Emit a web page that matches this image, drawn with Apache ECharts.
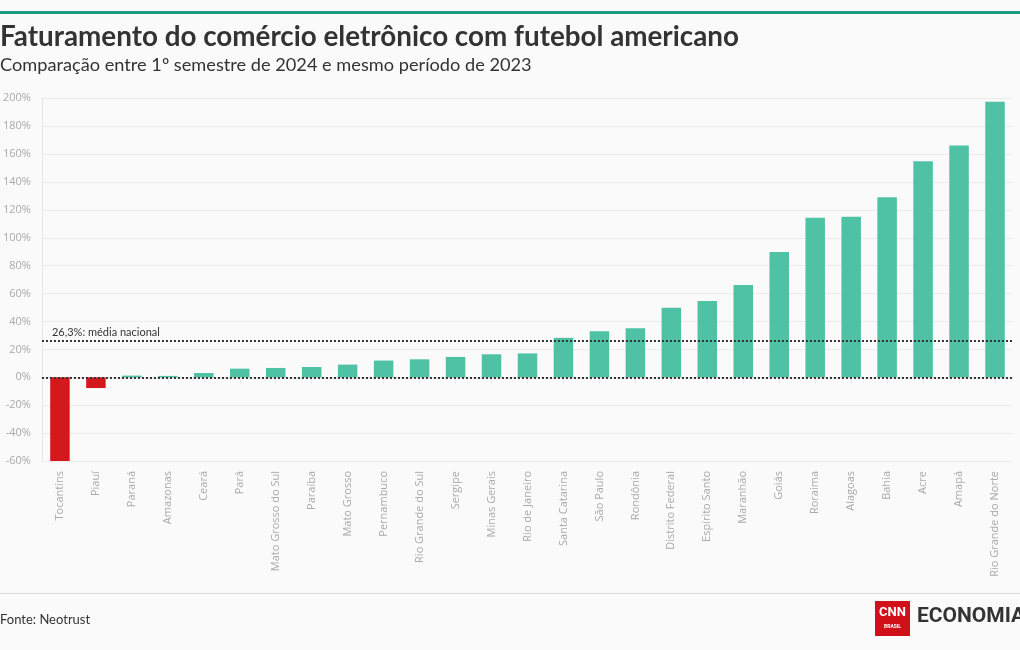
<!DOCTYPE html>
<html>
<head>
<meta charset="utf-8">
<script src="https://cdn.jsdelivr.net/npm/echarts@6/dist/echarts.min.js"></script>
<style>
html,body{margin:0;padding:0;background:#fafafa;}
#chart{width:1020px;height:650px;}
</style>
</head>
<body>
<div id="chart"></div>
<script>
var categories = ["Tocantins","Piauí","Paraná","Amazonas","Ceará","Pará","Mato Grosso do Sul","Paraíba","Mato Grosso","Pernambuco","Rio Grande do Sul","Sergipe","Minas Gerais","Rio de Janeiro","Santa Catarina","São Paulo","Rondônia","Distrito Federal","Espírito Santo","Maranhão","Goiás","Roraima","Alagoas","Bahia","Acre","Amapá","Rio Grande do Norte"];
var values = [-60, -7.7, 1.2, 1.0, 3.1, 6.2, 6.7, 7.4, 9.1, 12.0, 12.9, 14.6, 16.5, 17.1, 28.3, 33.0, 35.1, 49.9, 54.7, 66.1, 89.8, 114.3, 115.0, 129.1, 154.9, 166.1, 197.6];
var nationalAverage = 26.3;
var yTicks = {min: -60, max: 200, interval: 20};
var titleText = "Faturamento do comércio eletrônico com futebol americano";
var subtitleText = "Comparação entre 1º semestre de 2024 e mesmo período de 2023";
var sourceText = "Fonte: Neotrust";

var chart = echarts.init(document.getElementById('chart'));
var option = {
  backgroundColor: '#fafafa',
  animation: false,
  title: [
    {text: titleText, left: 0, top: 23, padding: 0, textStyle: {fontFamily: 'Lato', fontWeight: 'bold', fontSize: 27.8, color: '#333'}},
    {text: subtitleText, left: 0, top: 56, padding: 0, textStyle: {fontFamily: 'Lato', fontWeight: 'normal', fontSize: 18.2, color: '#333'}},
    {text: sourceText, left: 0, top: 613, padding: 0, textStyle: {fontFamily: 'Lato', fontWeight: 'normal', fontSize: 13, color: '#333'}}
  ],
  grid: {left: 39, right: 7, top: 98.3, bottom: 189, containLabel: false},
  xAxis: {
    type: 'category',
    data: categories,
    axisLine: {show: true, lineStyle: {color: '#e6e6e6'}},
    axisTick: {show: true, alignWithLabel: true, length: 6, lineStyle: {color: '#e6e6e6'}},
    axisLabel: {rotate: 90, interval: 0, margin: 10, fontFamily: 'Open Sans', fontSize: 11, color: '#aaa'}
  },
  yAxis: {
    type: 'value',
    min: yTicks.min, max: yTicks.max, interval: yTicks.interval,
    axisLine: {show: true, lineStyle: {color: '#e6e6e6'}},
    axisTick: {show: false},
    splitLine: {lineStyle: {color: '#ececec'}},
    axisLabel: {formatter: '{value}%', margin: 11, fontFamily: 'Open Sans', fontSize: 11, color: '#aaa'}
  },
  series: [{
    type: 'bar',
    data: values.map(function (v) { return {value: v, itemStyle: {color: v < 0 ? '#d4191c' : '#4fc1a5'}}; }),
    barWidth: 19.5,
    markLine: {
      silent: true,
      symbol: 'none',
      lineStyle: {type: [2, 2], color: '#333', width: 2},
      data: [
        {yAxis: nationalAverage, label: {show: true, position: 'insideStartTop', formatter: '26,3%: média nacional', fontFamily: 'Lato', fontSize: 11, color: '#333', distance: [10, 3]}},
        {yAxis: 0, label: {show: false}}
      ]
    }
  }],
  graphic: [
    {type: 'rect', shape: {x: 0, y: 11, width: 1020, height: 3}, style: {fill: '#1d9c80'}},
    {type: 'rect', shape: {x: 0, y: 593, width: 1020, height: 1}, style: {fill: '#dddddd'}},
    {type: 'rect', shape: {x: 875, y: 601, width: 35, height: 35}, style: {fill: '#d2101a'}},
    {type: 'text', x: 892.5, y: 606, style: {text: 'CNN', fill: '#fff', font: 'bold 13px Roboto', textAlign: 'center'}},
    {type: 'text', x: 892.5, y: 624, style: {text: 'BRASIL', fill: '#fff', font: 'bold 5px Roboto', textAlign: 'center'}},
    {type: 'text', x: 917, y: 606, style: {text: 'ECONOMIA', fill: '#333', font: 'bold 21px Roboto'}}
  ]
};
chart.setOption(option);
</script>
</body>
</html>
